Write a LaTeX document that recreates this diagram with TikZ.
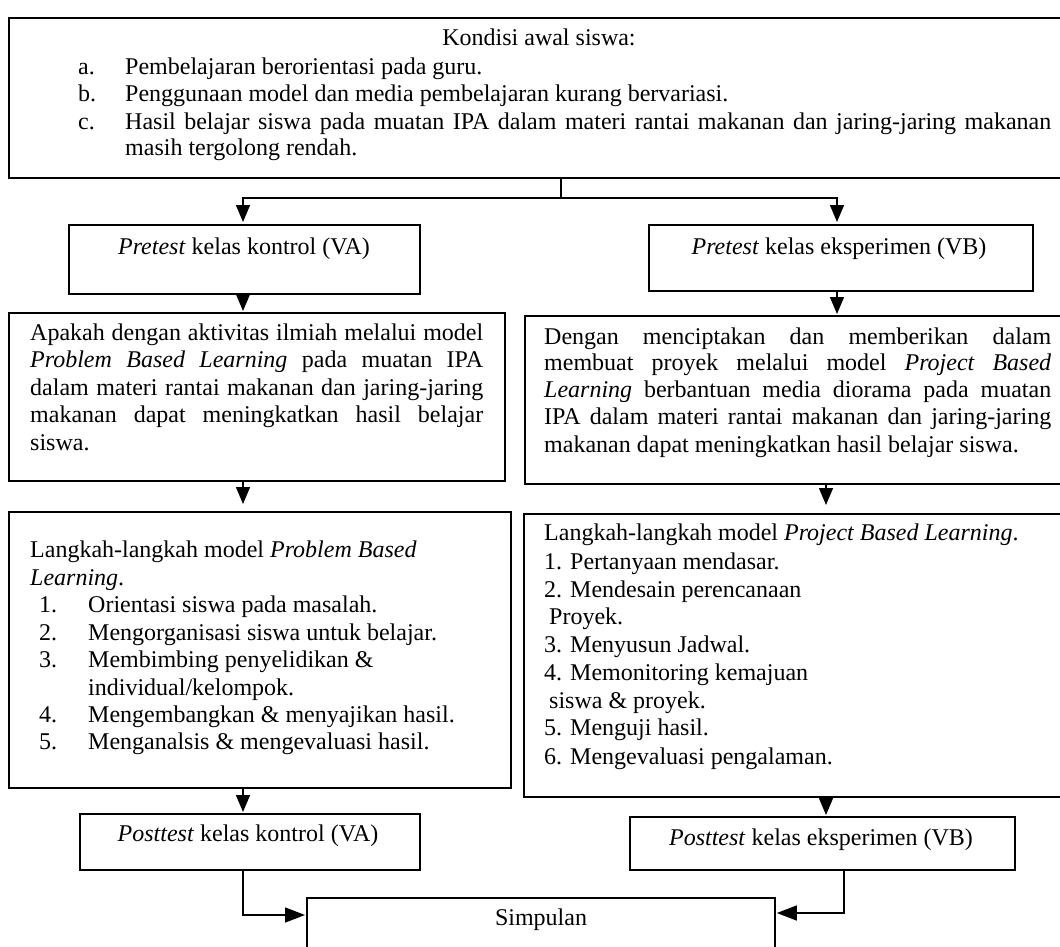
\documentclass[tikz,border=0pt]{standalone}
\usepackage{fontspec}
\setmainfont{Liberation Serif}
\usetikzlibrary{arrows.meta,calc}
\tikzset{
  box/.style={draw, line width=1.8pt, rectangle, inner sep=0pt, anchor=north west},
  txt/.style={inner sep=0pt, anchor=mid west, font=\fontsize{24}{28}\selectfont},
  ctxt/.style={inner sep=0pt, anchor=mid, font=\fontsize{24}{28}\selectfont},
  conn/.style={line width=1.4pt},
  arr/.style={conn, -{Triangle[width=14pt,length=17pt]}},
}
\newcommand{\jline}[2]{\makebox[#1pt][s]{#2}}
\begin{document}
\begin{tikzpicture}[x=1pt,y=-1pt]
\useasboundingbox (0,0) rectangle (1060,947);
\clip (0,0) rectangle (1060,947);
\fill[white] (0,0) rectangle (1060,947);
% boxes
\node[box, minimum width=1067pt, minimum height=160pt] (top) at (8,17) {};
\node[box, minimum width=351pt, minimum height=69pt] (preL) at (68,224) {};
\node[box, minimum width=384pt, minimum height=66pt] (preR) at (648,224) {};
\node[box, minimum width=496pt, minimum height=168pt] (A) at (8,312) {};
\node[box, minimum width=560pt, minimum height=168pt] (B) at (524,315) {};
\node[box, minimum width=502pt, minimum height=276pt] (C) at (8,511) {};
\node[box, minimum width=560pt, minimum height=283pt] (D) at (523,513) {};
\node[box, minimum width=340pt, minimum height=56pt] (postL) at (79,813) {};
\node[box, minimum width=385pt, minimum height=53pt] (postR) at (629,816) {};
\node[box, minimum width=468pt, minimum height=70pt] (simp) at (306,897) {};
% column coordinates
\coordinate (j) at (561,198);
\coordinate (cL) at (243,0);
\coordinate (cR) at (837,0);
\coordinate (cR2) at (826,0);
\coordinate (cR3) at (844,0);
% connectors
\draw[conn] (top.south -| j) -- (j);
\draw[arr] (j) -| ($(preL.north -| cL)+(0,-2)$);
\draw[arr] (j) -| ($(preR.north -| cR)+(0,-2)$);
\draw[arr] (preL.south -| cL) -- ($(A.north -| cL)+(0,-1)$);
\draw[arr] (preR.south -| cR) -- ($(B.north -| cR)+(0,-1)$);
\draw[arr] (A.south -| cL) -- ($(C.north -| cL)+(0,-7)$);
\draw[arr] (B.south -| cR2) -- ($(D.north -| cR2)+(0,-8)$);
\draw[arr] (C.south -| cL) -- ($(postL.north -| cL)+(0,-1)$);
\draw[arr] (D.south -| cR2) -- ($(postR.north -| cR2)+(0,-1)$);
\draw[conn, -{Triangle[width=15pt,length=20pt]}] (postL.south -| cL) |- ($(simp.north west)+(-1,18)$);
\draw[conn, -{Triangle[width=15pt,length=20pt]}] (postR.south -| cR3) |- ($(simp.north east)+(1,16)$);
% top box text
\node[ctxt] (t0) at (539,43) {Kondisi awal siswa:};
\node[txt] (ta) at (78,72) {a.};
\node[txt] (ta2) at (125,72) {Pembelajaran berorientasi pada guru.};
\node[txt] (tb) at (78,99) {b.};
\node[txt] (tb2) at (125,99) {Penggunaan model dan media pembelajaran kurang bervariasi.};
\node[txt] (tc) at (78,127) {c.};
\node[txt] (tc2) at (125,127) {\jline{926}{Hasil belajar siswa pada muatan IPA dalam materi rantai makanan dan jaring-jaring makanan}};
\node[txt] (tc3) at (125,153) {masih tergolong rendah.};
% pretest
\node[ctxt] (tpl) at (244,252) {\textit{Pretest} kelas kontrol (VA)};
\node[ctxt] (tpr) at (839,252) {\textit{Pretest} kelas eksperimen (VB)};
% box A
\node[txt] (a1) at (30,338) {\jline{453}{Apakah dengan aktivitas ilmiah melalui model}};
\node[txt] (a2) at (30,365) {\jline{453}{\textit{Problem Based Learning} pada muatan IPA}};
\node[txt] (a3) at (30,393) {\jline{453}{dalam materi rantai makanan dan jaring-jaring}};
\node[txt] (a4) at (30,420) {\jline{453}{makanan dapat meningkatkan hasil belajar}};
\node[txt] (a5) at (30,448) {siswa.};
% box B
\node[txt] (b1) at (544,342) {\jline{507}{Dengan menciptakan dan memberikan dalam}};
\node[txt] (b2) at (544,368) {\jline{507}{membuat proyek melalui model \textit{Project Based}}};
\node[txt] (b3) at (544,395) {\jline{507}{\textit{Learning} berbantuan media diorama pada muatan}};
\node[txt] (b4) at (544,422) {\jline{507}{IPA dalam materi rantai makanan dan jaring-jaring}};
\node[txt] (b5) at (544,450) {makanan dapat meningkatkan hasil belajar siswa.};
% box C
\node[txt] (c0) at (30,555) {Langkah-langkah model \textit{Problem Based}};
\node[txt] (c0b) at (30,583) {\textit{Learning}.};
\node[txt] (c1) at (39,610) {1.};
\node[txt] (c1b) at (88,610) {Orientasi siswa pada masalah.};
\node[txt] (c2) at (39,638) {2.};
\node[txt] (c2b) at (88,638) {Mengorganisasi siswa untuk belajar.};
\node[txt] (c3) at (39,665) {3.};
\node[txt] (c3b) at (88,665) {Membimbing penyelidikan \&};
\node[txt] (c3c) at (88,693) {individual/kelompok.};
\node[txt] (c4) at (39,720) {4.};
\node[txt] (c4b) at (88,720) {Mengembangkan \& menyajikan hasil.};
\node[txt] (c5) at (39,747) {5.};
\node[txt] (c5b) at (88,747) {Menganalsis \& mengevaluasi hasil.};
% box D
\node[txt] (d0) at (544,538) {Langkah-langkah model \textit{Project Based Learning}.};
\node[txt] (d1) at (544,567) {1. Pertanyaan mendasar.};
\node[txt] (d2) at (544,595) {2. Mendesain perencanaan};
\node[txt] (d2b) at (549,622) {Proyek.};
\node[txt] (d3) at (544,650) {3. Menyusun Jadwal.};
\node[txt] (d4) at (544,678) {4. Memonitoring kemajuan};
\node[txt] (d4b) at (549,706) {siswa \& proyek.};
\node[txt] (d5) at (544,733) {5. Menguji hasil.};
\node[txt] (d6) at (544,762) {6. Mengevaluasi pengalaman.};
% posttest and simpulan
\node[ctxt] (tql) at (248,839) {\textit{Posttest} kelas kontrol (VA)};
\node[ctxt] (tqr) at (821,843) {\textit{Posttest} kelas eksperimen (VB)};
\node[ctxt] (ts) at (541,923) {Simpulan};
\end{tikzpicture}
\end{document}
